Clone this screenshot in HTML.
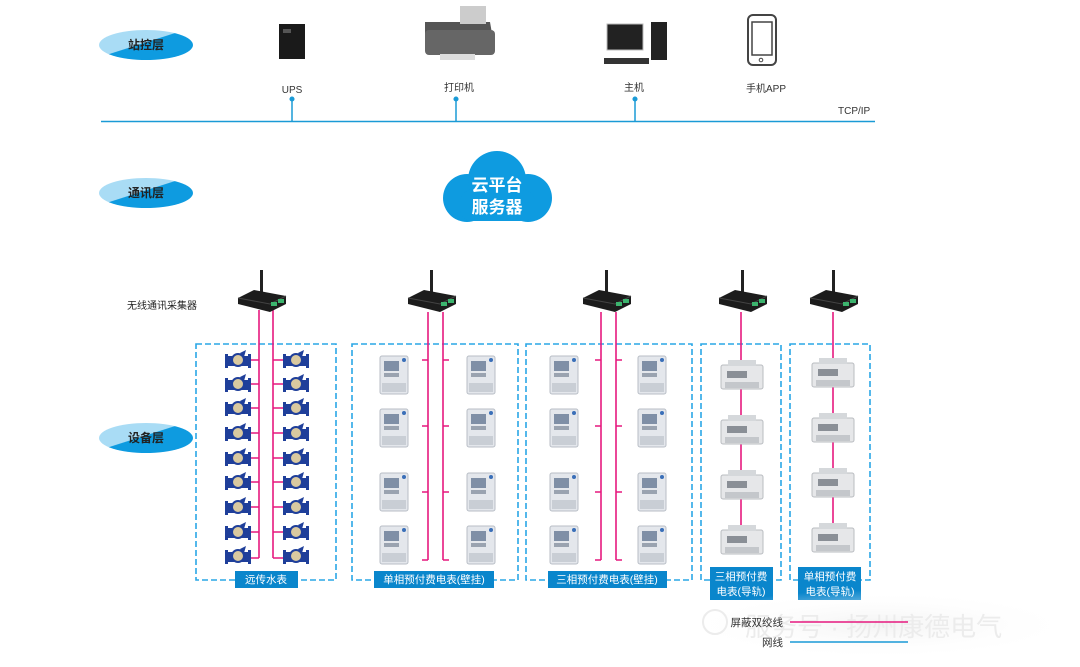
<!DOCTYPE html>
<html><head><meta charset="utf-8"><style>
html,body{margin:0;padding:0;background:#fff;}
svg{display:block;font-family:"Liberation Sans","Noto Sans CJK SC",sans-serif;}
</style></head><body>
<svg width="1080" height="667" viewBox="0 0 1080 667" xmlns="http://www.w3.org/2000/svg">
<defs>
<linearGradient id="eg" x1="0" y1="0" x2="1" y2="1">
<stop offset="0.45" stop-color="#a9dcf5"/><stop offset="0.46" stop-color="#0e9be0"/></linearGradient>
<radialGradient id="wm" cx="0.5" cy="0.5" r="0.5"><stop offset="0" stop-color="#f3f3f3"/><stop offset="1" stop-color="#fff" stop-opacity="0"/></radialGradient>
<g id="wmeter">
<rect x="-12" y="-4" width="24" height="10" fill="#1f3f9a"/>
<rect x="-13" y="-6" width="3" height="14" fill="#1f3f9a"/><rect x="10" y="-6" width="3" height="14" fill="#1f3f9a"/>
<circle cx="0" cy="0" r="6" fill="#d9c9a0" stroke="#1f3f9a" stroke-width="2"/>
<path d="M2,-7 L8,-10 L6,-3 Z" fill="#1f3f9a"/>
</g>
<g id="pmeter">
<rect x="-14" y="-19" width="28" height="38" rx="2" fill="#e4e7ec" stroke="#b8bec6"/>
<rect x="-10" y="-14" width="15" height="10" fill="#7f8fa6"/>
<rect x="-10" y="-2" width="15" height="4" fill="#9aa3b0"/>
<rect x="-12" y="8" width="24" height="9" fill="#c9ced5"/>
<circle cx="10" cy="-15" r="2" fill="#3a6fb8"/>
</g>
<g id="rmeter">
<rect x="-21" y="-11" width="42" height="24" rx="2" fill="#e6e7e9" stroke="#b9bcc0"/>
<rect x="-14" y="-16" width="28" height="6" fill="#d5d8db"/>
<rect x="-15" y="-5" width="20" height="7" fill="#8a8f96"/>
<rect x="-17" y="6" width="34" height="6" fill="#c4c7cb"/>
</g>
<g id="coll">
<rect x="-2" y="-32" width="3" height="30" fill="#222"/>
<path d="M-24,-4 L-8,-12 L24,-6 L24,2 L8,10 L-24,2 Z" fill="#1c1c1c"/>
<path d="M-24,-4 L8,2 L24,-6" fill="none" stroke="#444"/>
<rect x="9" y="0" width="6" height="4" fill="#3cb46e"/><rect x="16" y="-3" width="6" height="4" fill="#3cb46e"/>
</g>
</defs>

<ellipse cx="146" cy="45" rx="47" ry="15" fill="url(#eg)"/>
<ellipse cx="146" cy="193" rx="47" ry="15" fill="url(#eg)"/>
<ellipse cx="146" cy="438" rx="47" ry="15" fill="url(#eg)"/>
<g font-size="12" font-weight="bold" fill="#222" text-anchor="middle">
<text x="146" y="49">站控层</text><text x="146" y="197">通讯层</text><text x="146" y="442">设备层</text></g>

<rect x="279" y="24" width="26" height="35" fill="#1a1a1a"/><rect x="283" y="29" width="8" height="4" fill="#555"/>
<path d="M425,22 L490,22 L494,45 L425,48 Z" fill="#555"/><rect x="460" y="6" width="26" height="18" fill="#ccc"/>
<rect x="425" y="30" width="70" height="25" rx="4" fill="#666"/><rect x="440" y="54" width="35" height="6" fill="#ddd"/>
<rect x="607" y="24" width="36" height="26" fill="#222" stroke="#bbb"/><rect x="651" y="22" width="16" height="38" fill="#222"/>
<rect x="604" y="58" width="45" height="6" fill="#333"/>
<rect x="748" y="15" width="28" height="50" rx="5" fill="none" stroke="#444" stroke-width="2"/><rect x="752" y="22" width="20" height="33" fill="none" stroke="#444" stroke-width="1.5"/><circle cx="761" cy="60" r="1.8" fill="none" stroke="#444"/>
<g font-size="10" fill="#333" text-anchor="middle">
<text x="292" y="93">UPS</text><text x="459" y="91">打印机</text><text x="634" y="91">主机</text><text x="766" y="92">手机APP</text></g>
<text x="838" y="114" font-size="10" fill="#333">TCP/IP</text>
<line x1="101" y1="121.5" x2="875" y2="121.5" stroke="#1a9ad6" stroke-width="1.6"/>
<g stroke="#1a9ad6" stroke-width="1.5" fill="#1a9ad6">
<line x1="292" y1="99" x2="292" y2="121"/><circle cx="292" cy="99" r="1.8"/>
<line x1="456" y1="99" x2="456" y2="121"/><circle cx="456" cy="99" r="1.8"/>
<line x1="635" y1="99" x2="635" y2="121"/><circle cx="635" cy="99" r="1.8"/></g>

<g fill="#0e9be0">
<circle cx="467" cy="198" r="24"/><circle cx="497" cy="180" r="29"/><circle cx="528" cy="198" r="24"/>
<rect x="460" y="190" width="75" height="31" rx="12"/></g>
<g font-size="17" font-weight="bold" fill="#fff" text-anchor="middle"><text x="497" y="191">云平台</text><text x="497" y="213">服务器</text></g>

<text x="127" y="309" font-size="10" fill="#222">无线通讯采集器</text>

<g fill="none" stroke="#2aa7e6" stroke-width="1.6" stroke-dasharray="6,3">
<rect x="196" y="344" width="140" height="236"/>
<rect x="352" y="344" width="166" height="236"/>
<rect x="526" y="344" width="166" height="236"/>
<rect x="701" y="344" width="80" height="236"/>
<rect x="790" y="344" width="80" height="236"/></g>

<g stroke="#e6197f" stroke-width="1.6" fill="none">
<line x1="259" y1="310" x2="259" y2="558"/><line x1="273" y1="310" x2="273" y2="558"/>
<line x1="428" y1="312" x2="428" y2="560"/><line x1="443" y1="312" x2="443" y2="560"/>
<line x1="601" y1="312" x2="601" y2="560"/><line x1="616" y1="312" x2="616" y2="560"/>
<line x1="741" y1="312" x2="741" y2="540"/><line x1="833" y1="312" x2="833" y2="540"/>
<path d="M250,360H259 M273,360H283 M250,384H259 M273,384H283 M250,408H259 M273,408H283 M250,433H259 M273,433H283 M250,458H259 M273,458H283 M250,482H259 M273,482H283 M250,507H259 M273,507H283 M250,532H259 M273,532H283 M250,558H259 M273,558H283"/>
<path d="M422,360H428 M443,360H449 M422,426H428 M443,426H449 M422,492H428 M443,492H449 M422,560H428 M443,560H449"/>
<path d="M595,360H601 M616,360H622 M595,426H601 M616,426H622 M595,492H601 M616,492H622 M595,560H601 M616,560H622"/>
</g>

<use href="#coll" x="262" y="302"/><use href="#coll" x="432" y="302"/><use href="#coll" x="607" y="302"/>
<use href="#coll" x="743" y="302"/><use href="#coll" x="834" y="302"/>

<g>
<use href="#wmeter" x="238" y="360"/><use href="#wmeter" x="296" y="360"/>
<use href="#wmeter" x="238" y="384"/><use href="#wmeter" x="296" y="384"/>
<use href="#wmeter" x="238" y="408"/><use href="#wmeter" x="296" y="408"/>
<use href="#wmeter" x="238" y="433"/><use href="#wmeter" x="296" y="433"/>
<use href="#wmeter" x="238" y="458"/><use href="#wmeter" x="296" y="458"/>
<use href="#wmeter" x="238" y="482"/><use href="#wmeter" x="296" y="482"/>
<use href="#wmeter" x="238" y="507"/><use href="#wmeter" x="296" y="507"/>
<use href="#wmeter" x="238" y="532"/><use href="#wmeter" x="296" y="532"/>
<use href="#wmeter" x="238" y="556"/><use href="#wmeter" x="296" y="556"/>
</g>
<use href="#pmeter" x="394" y="375"/><use href="#pmeter" x="481" y="375"/>
<use href="#pmeter" x="394" y="428"/><use href="#pmeter" x="481" y="428"/>
<use href="#pmeter" x="394" y="492"/><use href="#pmeter" x="481" y="492"/>
<use href="#pmeter" x="394" y="545"/><use href="#pmeter" x="481" y="545"/>
<use href="#pmeter" x="564" y="375"/><use href="#pmeter" x="652" y="375"/>
<use href="#pmeter" x="564" y="428"/><use href="#pmeter" x="652" y="428"/>
<use href="#pmeter" x="564" y="492"/><use href="#pmeter" x="652" y="492"/>
<use href="#pmeter" x="564" y="545"/><use href="#pmeter" x="652" y="545"/>
<use href="#rmeter" x="742" y="376"/><use href="#rmeter" x="742" y="431"/><use href="#rmeter" x="742" y="486"/><use href="#rmeter" x="742" y="541"/>
<use href="#rmeter" x="833" y="374"/><use href="#rmeter" x="833" y="429"/><use href="#rmeter" x="833" y="484"/><use href="#rmeter" x="833" y="539"/>

<g fill="#0a86cc">
<rect x="235" y="571" width="63" height="17"/><rect x="374" y="571" width="120" height="17"/><rect x="548" y="571" width="119" height="17"/>
<rect x="710" y="567" width="63" height="33"/><rect x="798" y="567" width="63" height="33"/></g>
<g font-size="10.5" fill="#fff" text-anchor="middle">
<text x="266" y="583">远传水表</text><text x="434" y="583">单相预付费电表(壁挂)</text><text x="607" y="583">三相预付费电表(壁挂)</text>
<text x="741" y="580">三相预付费</text><text x="741" y="595">电表(导轨)</text>
<text x="830" y="580">单相预付费</text><text x="830" y="595">电表(导轨)</text></g>

<ellipse cx="880" cy="625" rx="200" ry="35" fill="url(#wm)"/>
<text x="745" y="636" font-size="26" fill="#ececec">服务号 · 扬州康德电气</text>
<circle cx="715" cy="622" r="12" fill="none" stroke="#ececec" stroke-width="2"/>

<g font-size="10.5" fill="#333" text-anchor="end"><text x="783" y="626">屏蔽双绞线</text><text x="783" y="646">网线</text></g>
<line x1="790" y1="622" x2="908" y2="622" stroke="#e6197f" stroke-width="1.5"/>
<line x1="790" y1="642" x2="908" y2="642" stroke="#1a9ad6" stroke-width="1.5"/>
</svg>
</body></html>
